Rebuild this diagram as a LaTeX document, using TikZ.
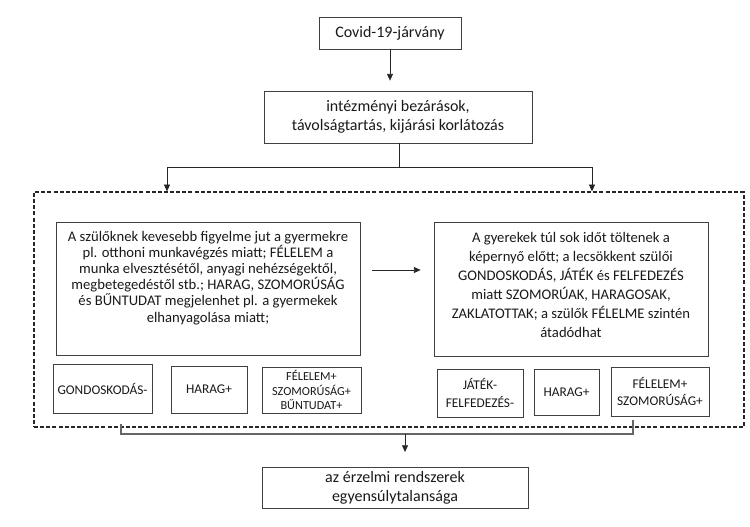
\documentclass[tikz,border=0pt]{standalone}
\usepackage{fontspec}
\setmainfont{Carlito}
\usetikzlibrary{arrows.meta}
\begin{document}
\begin{tikzpicture}[x=0.75pt,y=-0.75pt,
  wh/.style 2 args={minimum width=#1*0.75pt, minimum height=#2*0.75pt},
  box/.style={draw=black!75, line width=0.6pt, inner sep=0pt, align=center, text=black!90},
  zonebox/.style={draw=black!85, line width=1pt, dash pattern=on 3pt off 1.6pt, inner sep=0pt},
  txt/.style={inner sep=0pt, align=center, text=black!90},
  big/.style={font=\fontsize{12}{14.5}\selectfont},
  mid/.style={font=\fontsize{11}{12.1}\selectfont},
  midwide/.style={font=\fontsize{11}{14.25}\selectfont},
  small/.style={font=\fontsize{10}{13.3}\selectfont},
  smaller/.style={font=\fontsize{9.2}{10.6}\selectfont},
  arr/.style={-{Triangle[length=5pt,width=4.5pt]}, line width=0.5pt, draw=black!85},
  ln/.style={line width=0.5pt, draw=black!85},
  brk/.style={line width=0.9pt, draw=black!60}]
\useasboundingbox (0,0) rectangle (750,527);
% dashed zone
\node[zonebox, wh={710}{235}] (zone) at (389,309.5) {};
% top boxes
\node[box, big, wh={142}{32}] (covid) at (390,33) {Covid-19-járvány};
\node[box, big, wh={268}{52}] (meas) at (398,117) {intézményi bezárások,\\ távolságtartás, kijárási korlátozás};
% main text boxes
\node[box, wh={304}{133}] (lt) at (208,288.5) {};
\node[txt, mid, anchor=north] (ltx) at (208,231) {A szülőknek kevesebb figyelme jut a gyermekre\\ pl. otthoni munkavégzés miatt; FÉLELEM a\\ munka elvesztésétől, anyagi nehézségektől,\\ megbetegedéstől stb.; HARAG, SZOMORÚSÁG\\ és BŰNTUDAT megjelenhet pl. a gyermekek\\ elhanyagolása miatt;};
\node[box, wh={274}{134}] (rt) at (571,289) {};
\node[txt, midwide, anchor=north] (rtx) at (571,232) {A gyerekek túl sok időt töltenek a\\ képernyő előtt; a lecsökkent szülői\\ GONDOSKODÁS, JÁTÉK és FELFEDEZÉS\\ miatt SZOMORÚAK, HARAGOSAK,\\ ZAKLATOTTAK; a szülők FÉLELME szintén\\ átadódhat};
% small boxes left
\node[box, small, wh={99}{49}] (gond) at (102.5,388.5) {GONDOSKODÁS-};
\node[box, small, wh={76}{47}] (haragl) at (209,389.5) {HARAG+};
\node[box, smaller, wh={99}{46}] (fell) at (311.5,390) {FÉLELEM+\\ SZOMORÚSÁG+\\ BŰNTUDAT+};
% small boxes right
\node[box, small, wh={86}{48}] (jatek) at (480,393) {JÁTÉK-\\ FELFEDEZÉS-};
\node[box, small, wh={65}{46}] (haragr) at (566.5,392) {HARAG+};
\node[box, small, wh={98}{49}] (felr) at (660,391.5) {FÉLELEM+\\ SZOMORÚSÁG+};
% bottom box
\node[box, big, font=\fontsize{12}{14}\selectfont, wh={266}{41}] (bot) at (395,487.5) {az érzelmi rendszerek\\ egyensúlytalansága};
% connectors
\draw[arr, shorten >=7.5pt] (covid.south) -- (covid.south |- meas.north);
\coordinate (split) at (399,167);
\coordinate (sl) at (167,167);
\coordinate (sr) at (592,167);
\draw[ln] (meas.south -| split) -- (split);
\draw[ln] (sl) -- (sr);
\draw[arr] (sl) -- (sl |- zone.north);
\draw[arr] (sr) -- (sr |- zone.north);
\draw[arr, shorten <=9pt, shorten >=9.75pt] (lt.east |- 0,270) -- (rt.west |- 0,270);
% bracket to bottom
\coordinate (bl) at (121,424);
\coordinate (br) at (633,420);
\coordinate (bm) at (405,434);
\draw[brk] (bl) -- (bl |- bm) -- (br |- bm) -- (br);
\draw[arr, shorten >=11pt] (bm) -- (bm |- bot.north);
\end{tikzpicture}
\end{document}
